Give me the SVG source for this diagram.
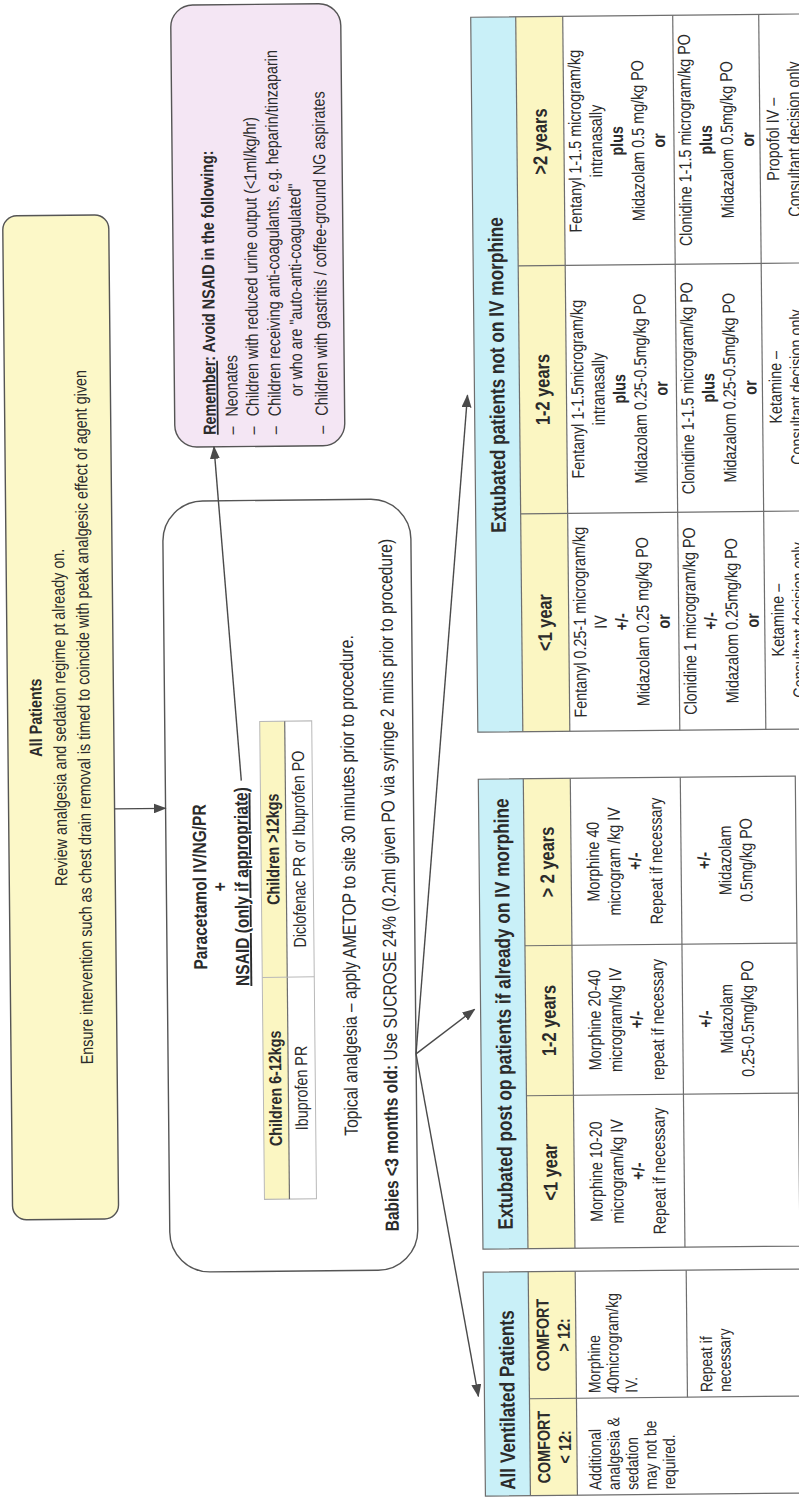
<svg xmlns="http://www.w3.org/2000/svg" width="799" height="1499" viewBox="0 0 799 1499">
<style>
text { font-family: 'Liberation Sans', Arial, sans-serif; fill: #2b2b2b; font-size: 17.5px; }
.c { text-anchor: middle; }
.b { font-weight: bold; }
.box { stroke: #555; stroke-width: 1.4; }
.grid { stroke: #6e6e6e; stroke-width: 1.2; fill: none; }
.gl { stroke: #6e6e6e; stroke-width: 1.2; }
.lg { stroke: #b8b8b8; stroke-width: 1; }
.cyan { fill: #c9f0f8; }
.yel { fill: #fbf6c2; }
.conn { stroke: #4a4a4a; stroke-width: 1.4; fill: none; marker-end: url(#ah); }
.p19 { font-size: 19px; }
.hd { font-size: 21px; font-weight: bold; }
.yh { font-size: 20px; font-weight: bold; }
.v { font-size: 17px; }
</style>
<defs>
<marker id="ah" markerWidth="13" markerHeight="10" refX="12" refY="5" orient="auto" markerUnits="userSpaceOnUse">
<path d="M0,0 L13,5 L0,10 z" fill="#4a4a4a"/>
</marker>
</defs>
<rect width="799" height="1499" fill="#ffffff"/>
<g transform="rotate(-0.57 400 750)">
<g transform="translate(0 1499) rotate(-90)">

<g id="all-patients">
<rect x="283" y="8" width="1004" height="106" rx="14" fill="#fcf8c8" class="box"/>
<g transform="scale(0.82 1)">
<text x="957.3" y="42" class="c b" font-size="23.5">All Patients</text>
<text x="957.3" y="66" class="c" font-size="23.5">Review analgesia and sedation regime pt already on.</text>
<text x="957.3" y="90" class="c" font-size="23.5">Ensure intervention such as chest drain removal is timed to coincide with peak analgesic effect of agent given</text>
</g>
</g>

<g id="paracetamol">
<rect x="229" y="165" width="771" height="248" rx="40" fill="#ffffff" class="box"/>
<rect x="301" y="260" width="478" height="25" class="yel"/>
<rect x="301" y="260" width="478" height="52" fill="none" class="lg"/>
<line x1="301" y1="285" x2="779" y2="285" class="gl"/>
<line x1="523" y1="260" x2="523" y2="312" class="lg"/>
<g transform="scale(0.82 1)">
<text x="748.8" y="205" class="c b p19">Paracetamol IV/NG/PR</text>
<text x="748.8" y="225" class="c b p19">+</text>
<text x="748.8" y="247" class="c b p19" text-decoration="underline">NSAID (only if appropriate)</text>
<text x="502.4" y="278" class="c b" font-size="16">Children 6-12kgs</text>
<text x="793.9" y="278" class="c b" font-size="16">Children &gt;12kgs</text>
<text x="502.4" y="304" class="c" font-size="16">Ibuprofen PR</text>
<text x="793.9" y="304" class="c" font-size="16">Diclofenac PR or Ibuprofen PO</text>
<text x="748.8" y="354" class="c p19">Topical analgesia – apply AMETOP to site 30 minutes prior to procedure.</text>
<text x="748.8" y="394" class="c p19"><tspan class="b">Babies &lt;3 months old:</tspan> Use SUCROSE 24% (0.2ml given PO via syringe 2 mins prior to procedure)</text>
</g>
</g>

<g id="remember">
<rect x="1054" y="178" width="442" height="170" rx="22" fill="#f4e6f4" class="box"/>
<g transform="scale(0.82 1)">
<text x="1300" y="219" class="b" font-size="22"><tspan text-decoration="underline">Remember</tspan>: Avoid NSAID in the following:</text>
<g font-size="18">
<text x="1300" y="241">–</text><text x="1322" y="241">Neonates</text>
<text x="1300" y="262">–</text><text x="1322" y="262">Children with reduced urine output (&lt;1ml/kg/hr)</text>
<text x="1300" y="284">–</text><text x="1322" y="284">Children receiving anti-coagulants, e.g. heparin/tinzaparin</text>
<text x="1346" y="306">or who are "auto-anti-coagulated"</text>
<text x="1300" y="331">–</text><text x="1322" y="331">Children with gastritis / coffee-ground NG aspirates</text>
</g>
</g>
</g>

<g id="table-ventilated">
<rect x="2" y="478" width="224" height="45" class="cyan"/>
<rect x="2" y="523" width="224" height="47" class="yel"/>
<rect x="2" y="478" width="224" height="317" class="grid"/>
<line x1="2" y1="523" x2="226" y2="523" class="gl"/>
<line x1="2" y1="570" x2="226" y2="570" class="gl"/>
<line x1="99" y1="523" x2="99" y2="795" class="gl"/>
<line x1="99" y1="681" x2="226" y2="681" class="gl"/>
<g transform="scale(0.82 1)">
<text x="9.8" y="508" class="hd">All Ventilated Patients</text>
<text x="61.6" y="543" class="c b" font-size="18">COMFORT</text>
<text x="61.6" y="564" class="c b" font-size="18">&lt; 12:</text>
<text x="198.2" y="543" class="c b" font-size="18">COMFORT</text>
<text x="198.2" y="564" class="c b" font-size="18">&gt; 12:</text>
<text x="8.5" y="594" class="v">Additional</text>
<text x="8.5" y="612.5" class="v">analgesia &amp;</text>
<text x="8.5" y="631" class="v">sedation</text>
<text x="8.5" y="649.5" class="v">may not be</text>
<text x="8.5" y="668" class="v">required.</text>
<text x="126.8" y="594" class="v">Morphine</text>
<text x="126.8" y="612.5" class="v">40microgram/kg</text>
<text x="126.8" y="631" class="v">IV.</text>
<text x="126.8" y="706" class="v">Repeat if</text>
<text x="126.8" y="724.5" class="v">necessary</text>
</g>
</g>

<g id="table-postop">
<rect x="249" y="478" width="470" height="45" class="cyan"/>
<rect x="249" y="523" width="470" height="47" class="yel"/>
<rect x="249" y="478" width="470" height="317" class="grid"/>
<line x1="249" y1="523" x2="719" y2="523" class="gl"/>
<line x1="249" y1="570" x2="719" y2="570" class="gl"/>
<line x1="249" y1="680" x2="719" y2="680" class="gl"/>
<line x1="402" y1="523" x2="402" y2="795" class="gl"/>
<line x1="552" y1="523" x2="552" y2="795" class="gl"/>
<g transform="scale(0.82 1)">
<text x="590.2" y="508" class="c hd">Extubated post op patients if already on IV morphine</text>
<text x="396.9" y="553" class="c yh">&lt;1 year</text>
<text x="581.7" y="553" class="c yh">1-2 years</text>
<text x="775" y="553" class="c yh">&gt; 2 years</text>
<text x="396.9" y="598" class="c">Morphine 10-20</text>
<text x="396.9" y="619" class="c">microgram/kg IV</text>
<text x="396.9" y="640" class="c b">+/-</text>
<text x="396.9" y="661" class="c">Repeat if necessary</text>
<text x="581.7" y="598" class="c">Morphine 20-40</text>
<text x="581.7" y="619" class="c">microgram/kg IV</text>
<text x="581.7" y="640" class="c b">+/-</text>
<text x="581.7" y="661" class="c">repeat if necessary</text>
<text x="775" y="598" class="c">Morphine 40</text>
<text x="775" y="619" class="c">microgram /kg IV</text>
<text x="775" y="640" class="c b">+/-</text>
<text x="775" y="661" class="c">Repeat if necessary</text>
<text x="581.7" y="709" class="c b">+/-</text>
<text x="581.7" y="730" class="c">Midazolam</text>
<text x="581.7" y="751" class="c">0.25-0.5mg/kg PO</text>
<text x="775" y="709" class="c b">+/-</text>
<text x="775" y="730" class="c">Midazolam</text>
<text x="775" y="751" class="c">0.5mg/kg PO</text>
</g>
</g>

<g id="table-not-iv">
<rect x="766" y="478" width="715" height="45" class="cyan"/>
<rect x="766" y="523" width="715" height="47" class="yel"/>
<rect x="766" y="478" width="715" height="372" class="grid"/>
<line x1="766" y1="523" x2="1481" y2="523" class="gl"/>
<line x1="766" y1="570" x2="1481" y2="570" class="gl"/>
<line x1="766" y1="680" x2="1481" y2="680" class="gl"/>
<line x1="766" y1="766" x2="1481" y2="766" class="gl"/>
<line x1="984" y1="523" x2="984" y2="850" class="gl"/>
<line x1="1232" y1="523" x2="1232" y2="850" class="gl"/>
<g transform="scale(0.82 1)">
<text x="1369.5" y="508" class="c hd">Extubated patients not on IV morphine</text>
<text x="1067.1" y="553" class="c yh">&lt;1 year</text>
<text x="1351.2" y="553" class="c yh">1-2 years</text>
<text x="1653.7" y="553" class="c yh">&gt;2 years</text>
<text x="1067.1" y="587" class="c">Fentanyl 0.25-1 microgram/kg</text>
<text x="1067.1" y="608" class="c">IV</text>
<text x="1067.1" y="629" class="c b">+/-</text>
<text x="1067.1" y="650" class="c">Midazolam 0.25 mg/kg PO</text>
<text x="1067.1" y="671" class="c b">or</text>
<text x="1351.2" y="587" class="c">Fentanyl 1-1.5microgram/kg</text>
<text x="1351.2" y="608" class="c">intranasally</text>
<text x="1351.2" y="629" class="c b">plus</text>
<text x="1351.2" y="650" class="c">Midazolam 0.25-0.5mg/kg PO</text>
<text x="1351.2" y="671" class="c b">or</text>
<text x="1653.7" y="587" class="c">Fentanyl 1-1.5 microgram/kg</text>
<text x="1653.7" y="608" class="c">intranasally</text>
<text x="1653.7" y="629" class="c b">plus</text>
<text x="1653.7" y="650" class="c">Midazolam 0.5 mg/kg PO</text>
<text x="1653.7" y="671" class="c b">or</text>
<text x="1067.1" y="697" class="c">Clonidine 1 microgram/kg PO</text>
<text x="1067.1" y="718" class="c b">+/-</text>
<text x="1067.1" y="739" class="c">Midazalom 0.25mg/kg PO</text>
<text x="1067.1" y="760" class="c b">or</text>
<text x="1351.2" y="697" class="c">Clonidine 1-1.5 microgram/kg PO</text>
<text x="1351.2" y="718" class="c b">plus</text>
<text x="1351.2" y="739" class="c">Midazalom 0.25-0.5mg/kg PO</text>
<text x="1351.2" y="760" class="c b">or</text>
<text x="1653.7" y="697" class="c">Clonidine 1-1.5 microgram/kg PO</text>
<text x="1653.7" y="718" class="c b">plus</text>
<text x="1653.7" y="739" class="c">Midazalom 0.5mg/kg PO</text>
<text x="1653.7" y="760" class="c b">or</text>
<text x="1067.1" y="785" class="c">Ketamine –</text>
<text x="1067.1" y="806" class="c">Consultant decision only</text>
<text x="1351.2" y="785" class="c">Ketamine –</text>
<text x="1351.2" y="806" class="c">Consultant decision only</text>
<text x="1653.7" y="785" class="c">Propofol IV –</text>
<text x="1653.7" y="806" class="c">Consultant decision only</text>
</g>
</g>

<g id="connectors">
<line x1="693" y1="114" x2="693" y2="165" class="conn"/>
<line x1="720" y1="241" x2="1054" y2="217" class="conn"/>
<line x1="445" y1="413" x2="1103" y2="471" class="conn"/>
<line x1="445" y1="413" x2="489" y2="472" class="conn"/>
<line x1="445" y1="413" x2="102" y2="472" class="conn"/>
</g>

</g>
</g>
</svg>
